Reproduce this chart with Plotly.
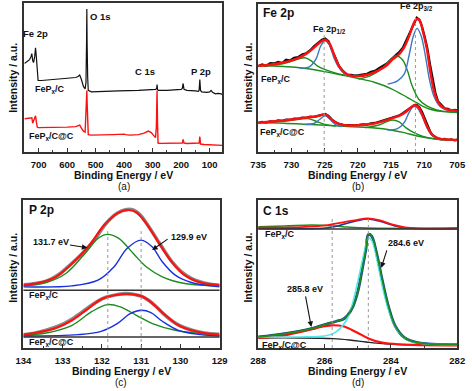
import plotly.graph_objects as go

W, H = 472, 391

# ---------------- (a) survey ----------------
a_black_ev = [750, 740, 732, 727, 724, 721, 718, 714, 711, 708, 705, 702, 690, 650, 600, 570, 562, 556, 550, 543,
              537, 534, 532, 531, 530, 528, 526, 515, 480, 420, 350, 300, 290, 286, 284.5, 283, 280, 250, 210, 200,
              196, 193, 190, 180, 150, 140, 137, 134.5, 132, 128, 110, 100, 95, 90, 80, 70, 60, 55]
a_black_int = [89, 91, 93, 96, 99, 92, 90, 96, 105, 95, 78, 72, 72, 73, 74, 75, 76, 77.5, 73, 66,
               63.5, 70, 110, 144, 110, 75, 62, 60.5, 61, 61.5, 62, 62.5, 63, 64, 68, 63, 62, 62, 62.5, 63,
               64, 69, 63, 62, 61.5, 61, 62, 73, 62, 60.5, 60, 60.5, 62, 60, 58.5, 59, 58.5, 58]
a_red_ev = [750, 740, 732, 727, 724, 721, 718, 714, 711, 708, 705, 702, 690, 650, 600, 570, 562, 556, 550, 543,
            537, 534, 532, 531, 530, 528, 526, 515, 480, 440, 400, 395, 380, 350, 330, 315, 305, 296, 290, 287,
            285, 284.5, 283, 281, 275, 250, 210, 196, 193, 190, 180, 150, 140, 137, 134.5, 132, 120, 100, 80, 55]
a_red_int = [33.5, 34, 34.5, 35, 34.5, 29, 31, 33, 36.5, 30, 25, 24.5, 24.5, 24.5, 25, 25.5, 26, 27, 24, 21,
             20, 35, 55, 62, 50, 20, 17.5, 17, 17, 17.5, 18, 17.5, 17, 17.5, 19, 21, 19.5, 16, 14.5, 25,
             55, 62, 30, 9, 8.7, 8.7, 8.7, 9, 12.7, 9, 8.5, 8.5, 8.5, 9, 15.4, 8, 7.5, 7.2, 7, 6.7]

# ---------------- (b) Fe 2p ----------------
b_grid = [735, 734.4, 733.8, 733.2, 732.6, 732, 731.4, 730.8, 730.2, 729.6, 729, 728.4, 727.8, 727.2, 726.6, 726,
          725.4, 724.9, 724.4, 723.9, 723.4, 722.8, 722.2, 721.6, 721, 720.4, 719.8, 719.2, 718.6, 718, 717.4,
          716.8, 716.2, 715.6, 715, 714.4, 713.8, 713.2, 712.6, 712, 711.5, 711.1, 710.7, 710.3, 709.9, 709.5,
          709.1, 708.7, 708.3, 707.9, 707.4, 706.9, 706.4, 705.9, 705.4, 705]
b_up_data = [257, 262, 258, 266, 265, 270, 266, 276, 274, 282, 284, 292, 295, 304, 316, 325,
             336, 340, 332, 306, 282, 257, 242, 232, 231, 229, 230, 233, 234, 240, 243,
             251, 258, 265, 277, 287, 298, 312, 337, 365, 388, 402, 396, 375, 345, 310,
             262, 215, 178, 152, 140, 131, 129, 124, 126, 125]
b_lo_data = [87, 90, 88, 92, 91, 95, 93, 97, 96, 100, 99, 103, 102, 106, 105, 109,
             112, 114, 108, 97, 90, 84, 81, 80, 79, 80, 81, 83, 82, 86, 87,
             91, 93, 98, 101, 106, 109, 116, 124, 134, 140, 141, 134, 120, 100, 80,
             62, 50, 44, 40, 38, 39, 36, 38, 35, 37]

b_up_fit_ev = [735, 733.2, 731.2, 729.7, 728.75, 727.8, 726.54, 725.56, 724.9, 724.2, 723.6, 722.85, 721.9, 720.9,
               719.9, 718.4, 717.0, 715.7, 714.7, 713.75, 713.0, 712.27, 711.6, 711.15, 710.65, 710.2, 709.57,
               709.08, 708.5, 707.85, 706.9, 705.9, 705]
b_up_fit = [258, 261, 268, 276, 283, 293, 313, 330, 336, 323, 293, 258, 236, 228,
            227, 232, 243, 258, 278, 293, 313, 346, 383, 398, 393, 363, 308,
            243, 183, 148, 130, 125, 123]
b_up_bg_ev = [735, 731.2, 727.8, 724.8, 722.4, 719.9, 717.4, 715.0, 712.5, 711.0, 709.1, 707.1, 705]
b_up_bg = [258, 256, 250, 240, 230, 220, 208, 190, 163, 146, 128, 121, 118]
b_up_sat_ev = [735, 732.2, 730.2, 729.0, 728.0, 727.0, 726.1, 724.8, 723.3, 721.9]
b_up_sat = [258, 261, 270, 278, 282, 273, 258, 246, 236, 230]
b_up_p12_ev = [728.75, 727.3, 726.3, 725.56, 724.9, 724.2, 723.6, 722.85, 722.1, 721.1]
b_up_p12 = [251, 255, 278, 318, 333, 318, 283, 253, 236, 226]
b_up_714_ev = [719.9, 717.9, 716.5, 715.2, 714.24, 713.26, 712.5, 711.8, 710.8, 709.6, 708.1, 706.1, 705]
b_up_714 = [218, 230, 248, 273, 288, 276, 243, 198, 158, 138, 126, 120, 120]
b_up_711_ev = [715.5, 714.0, 713.0, 712.27, 711.6, 711.05, 710.45, 709.8, 709.2, 708.5, 707.6, 706.1, 705]
b_up_711 = [203, 213, 233, 288, 348, 370, 348, 288, 218, 166, 136, 123, 121]

b_lo_fit_ev = [735, 732.2, 729.7, 727.8, 726.3, 725.3, 724.8, 724.1, 723.1, 721.9, 719.9, 717.9, 716.5, 715.0,
               713.75, 712.76, 712.0, 711.44, 710.9, 710.3, 709.57, 708.83, 707.85, 706.1, 705]
b_lo_fit = [88, 92, 98, 103, 106, 111, 112, 100, 86, 80, 80, 84, 90, 100,
            108, 120, 133, 140, 136, 113, 78, 53, 41, 37, 36]
b_lo_bg_ev = [735, 731.2, 727.8, 724.8, 721.4, 717.4, 715.0, 713.0, 711.05, 709.1, 707.1, 705]
b_lo_bg = [88, 86, 83, 80, 76, 72, 66, 58, 48, 41, 37, 36]
b_lo_sat_ev = [735, 731.2, 728.75, 727.5, 726.3, 724.8, 723.3]
b_lo_sat = [88, 92, 98, 100, 92, 82, 78]
b_lo_p12_ev = [728.0, 726.54, 725.7, 724.9, 724.2, 723.34, 722.36]
b_lo_p12 = [82, 86, 98, 108, 98, 82, 76]
b_lo_715_ev = [718.9, 716.95, 715.7, 714.73, 713.75, 712.76, 711.54, 710.06, 708.1, 705]
b_lo_715 = [73, 80, 90, 96, 90, 73, 58, 46, 38, 36]
b_lo_711_ev = [715.5, 714.0, 713.0, 712.27, 711.6, 711.05, 710.3, 709.57, 708.83, 707.85, 706.1, 705]
b_lo_711 = [66, 70, 88, 118, 136, 133, 108, 73, 50, 40, 37, 36]

# ---------------- (c) P 2p ----------------
c_data_ev = [134, 133.7, 133.4, 133.1, 132.8, 132.5, 132.2, 131.9, 131.6, 131.4, 131.2, 131.0, 130.8, 130.6,
             130.4, 130.2, 130.0, 129.7, 129.4, 129.0]
c_up_data = [189, 193, 201, 220, 250, 283, 322, 372, 404, 414, 413, 395, 362, 326, 290, 256, 231, 207, 195, 188]
c_lo_data = [40, 45, 54, 66, 84, 108, 133, 152, 160, 163, 161, 155, 142, 122, 99, 80, 66, 53, 45, 41]
c_up_fit_ev = [134, 133.58, 133.17, 132.76, 132.35, 131.94, 131.61, 131.32, 131.12, 130.87, 130.54, 130.22,
               129.89, 129.48, 129]
c_up_fit = [188, 196, 213, 253, 303, 368, 403, 413, 406, 373, 313, 258, 218, 196, 188]
c_up_g_ev = [134, 133.42, 132.92, 132.43, 132.1, 131.86, 131.57, 131.2, 130.87, 130.46, 129.89, 129]
c_up_g = [186, 196, 223, 283, 328, 340, 328, 283, 243, 213, 193, 186]
c_up_b_ev = [134, 132.76, 132.1, 131.69, 131.36, 131.0, 130.72, 130.46, 130.13, 129.72, 129]
c_up_b = [183, 186, 203, 243, 298, 323, 303, 258, 218, 196, 183]
c_lo_fit_ev = [134, 133.58, 133.17, 132.76, 132.35, 132.02, 131.69, 131.28, 130.95, 130.71, 130.38, 130.05,
               129.72, 129.31, 129]
c_lo_fit = [40, 48, 60, 83, 118, 146, 158, 161, 153, 133, 98, 68, 53, 43, 40]
c_lo_g_ev = [134, 133.42, 132.76, 132.27, 131.86, 131.53, 131.12, 130.71, 130.13, 129.48, 129]
c_lo_g = [38, 45, 68, 108, 130, 123, 98, 73, 53, 43, 38]
c_lo_b_ev = [134, 132.6, 132.02, 131.61, 131.28, 131.0, 130.75, 130.46, 130.05, 129.48, 129]
c_lo_b = [36, 40, 50, 73, 103, 113, 106, 80, 53, 40, 36]

# ---------------- (d) C 1s ----------------
d_up_r_ev = [288, 286.7, 285.9, 285.44, 285.05, 284.7, 284.36, 283.97, 283.58, 283.19, 282]
d_up_r = [360, 362, 368, 376, 383, 388, 383, 370, 361, 358, 358]
d_up_b_ev = [288, 285.9, 285.44, 285.05, 284.7, 284.36, 283.97, 283.58, 282]
d_up_b = [358, 360, 370, 380, 386, 380, 368, 360, 358]
d_up_g_ev = [288, 287.2, 286.4, 285.8, 285.3, 284.7, 282]
d_up_g = [363, 365, 368, 366, 362, 359, 358]
d_bg_ev = [288, 286.7, 285.74, 285.25, 284.75, 284.26, 283.77, 282]
d_bg = [30, 30, 28, 24, 18, 13, 11, 10]
d_r_ev = [288, 287.2, 286.5, 286.0, 285.77, 285.44, 285.05, 284.66, 284.26, 283.77, 282]
d_r = [30, 38, 53, 65, 68, 65, 48, 28, 16, 11, 8]
d_c_ev = [288, 286.7, 286.0, 285.74, 285.54, 285.34, 285.2, 285.0, 284.8, 284.68, 284.56, 284.41, 284.22,
          284.02, 283.77, 283.48, 282.99, 282]
d_c = [33, 33, 36, 43, 58, 83, 118, 198, 288, 330, 318, 258, 168, 98, 48, 23, 13, 10]
d_g_ev = [288, 287.2, 286.4, 285.9, 285.64, 285.44, 285.3, 285.15, 285.0, 284.85, 284.75, 284.68, 284.58,
          284.44, 284.26, 284.07, 283.87, 283.58, 283.19, 282]
d_g = [33, 43, 58, 73, 80, 86, 98, 123, 168, 243, 298, 340, 335, 288, 203, 123, 66, 30, 16, 10]

fig = go.Figure()


def add(x, y, n, color, width, shape='spline'):
    line = dict(color=color, width=width, shape=shape)
    if shape == 'spline':
        line['smoothing'] = 1.0
    fig.add_trace(go.Scatter(x=x, y=y, xaxis='x' + n, yaxis='y' + n, mode='lines', line=line,
                             showlegend=False, hoverinfo='skip'))


RED = '#ff1010'
GREEN = '#1c8c1c'
BLUE_B = '#3a78c0'
BLUE = '#1830e0'
CYAN = '#50e8e8'
NAVY = '#203c9c'

# (a)
add(a_black_ev, a_black_int, '', '#111111', 1.2, 'linear')
add(a_red_ev, a_red_int, '', RED, 1.4, 'linear')

# (b)
add(b_grid, b_up_data, '2', '#111111', 2.2, 'linear')
add(b_grid, b_lo_data, '2', '#111111', 2.2, 'linear')
for xs, ys, c in [(b_up_bg_ev, b_up_bg, GREEN), (b_up_sat_ev, b_up_sat, GREEN), (b_up_714_ev, b_up_714, GREEN),
                  (b_up_p12_ev, b_up_p12, BLUE_B), (b_up_711_ev, b_up_711, BLUE_B),
                  (b_lo_bg_ev, b_lo_bg, GREEN), (b_lo_sat_ev, b_lo_sat, GREEN), (b_lo_715_ev, b_lo_715, GREEN),
                  (b_lo_p12_ev, b_lo_p12, BLUE_B), (b_lo_711_ev, b_lo_711, BLUE_B)]:
    add(xs, ys, '2', c, 1.4)
add(b_up_fit_ev, b_up_fit, '2', RED, 2.4)
add(b_lo_fit_ev, b_lo_fit, '2', RED, 2.4)

# (c)
add(c_data_ev, c_up_data, '3', '#8a8a8a', 3.5)
add(c_data_ev, c_lo_data, '3', '#8a8a8a', 3.5)
add(c_up_g_ev, c_up_g, '3', GREEN, 1.4)
add(c_up_b_ev, c_up_b, '3', BLUE, 1.4)
add(c_lo_g_ev, c_lo_g, '3', GREEN, 1.4)
add(c_lo_b_ev, c_lo_b, '3', BLUE, 1.4)
add(c_up_fit_ev, c_up_fit, '3', RED, 2.2)
add(c_lo_fit_ev, c_lo_fit, '3', RED, 2.2)

# (d)
add(d_up_g_ev, d_up_g, '4', GREEN, 1.6)
add(d_up_b_ev, d_up_b, '4', NAVY, 1.6)
add(d_up_r_ev, d_up_r, '4', RED, 1.8)
add(d_bg_ev, d_bg, '4', '#222222', 1.4)
add(d_g_ev, d_g, '4', NAVY, 2.8)
add(d_r_ev, d_r, '4', RED, 2.2)
add(d_c_ev, d_c, '4', CYAN, 1.6)
add(d_g_ev, d_g, '4', GREEN, 1.6)

# ---------------- layout ----------------
def dom(p0, p1, total):
    return [p0 / total, p1 / total]


def ydom(top, bottom):
    return [1 - bottom / H, 1 - top / H]


FONT = 'Liberation Sans'
tickfont = dict(family=FONT, size=9.5, color='#111111', weight='bold')
common_x = dict(showline=True, mirror=True, linecolor='#333333', linewidth=1.5, ticks='inside', ticklen=4,
                tickwidth=1, tickcolor='#333333', showgrid=False, zeroline=False, tickfont=tickfont,
                fixedrange=True, ticklabelstandoff=3)
common_y = dict(showline=True, mirror=True, linecolor='#333333', linewidth=1.5, ticks='', showticklabels=False,
                showgrid=False, zeroline=False, fixedrange=True)

fig.update_layout(
    width=W, height=H, margin=dict(l=0, r=0, t=0, b=0),
    paper_bgcolor='white', plot_bgcolor='white',
    xaxis=dict(common_x, domain=dom(17, 222, W), range=[750, 55], anchor='y', tick0=0, dtick=100,
               minor=dict(ticks='inside', ticklen=2, dtick=50, tick0=0, tickcolor='#333333')),
    yaxis=dict(common_y, domain=ydom(3, 152), range=[0, 150], anchor='x'),
    xaxis2=dict(common_x, domain=dom(259, 465, W), range=[735, 705], anchor='y2', tick0=705, dtick=5,
                minor=dict(ticks='inside', ticklen=2, dtick=2.5, tick0=705, tickcolor='#333333')),
    yaxis2=dict(common_y, domain=ydom(4, 152), range=[0, 443], anchor='x2'),
    xaxis3=dict(common_x, domain=dom(16, 219, W), range=[134, 129], anchor='y3', tick0=129, dtick=1,
                minor=dict(ticks='inside', ticklen=2, dtick=0.5, tick0=129, tickcolor='#333333')),
    yaxis3=dict(common_y, domain=ydom(200, 348), range=[0, 443], anchor='x3'),
    xaxis4=dict(common_x, domain=dom(259, 465, W), range=[288, 282], anchor='y4', tick0=282, dtick=2,
                minor=dict(ticks='inside', ticklen=2, dtick=1, tick0=282, tickcolor='#333333')),
    yaxis4=dict(common_y, domain=ydom(200, 348), range=[0, 443], anchor='x4'),
)

shapes = []
for xv, ytop in [(725.06, 363), (711.3, 413)]:
    shapes.append(dict(type='line', xref='x2', yref='y2', x0=xv, x1=xv, y0=0, y1=ytop,
                       line=dict(color='#999999', width=1, dash='dot')))
for xv, ytop in [(131.85, 350), (131.0, 350)]:
    shapes.append(dict(type='line', xref='x3', yref='y3', x0=xv, x1=xv, y0=0, y1=ytop,
                       line=dict(color='#999999', width=1, dash='dot')))
for xv, ytop in [(285.77, 388), (284.68, 388)]:
    shapes.append(dict(type='line', xref='x4', yref='y4', x0=xv, x1=xv, y0=0, y1=ytop,
                       line=dict(color='#999999', width=1, dash='dot')))
for yv in [173, 33]:
    shapes.append(dict(type='line', xref='x3 domain', yref='y3', x0=0, x1=1, y0=yv, y1=yv,
                       line=dict(color='#333333', width=1.5)))
shapes.append(dict(type='line', xref='x4 domain', yref='y4', x0=0, x1=1, y0=356, y1=356,
                   line=dict(color='#333333', width=1.5)))
fig.update_layout(shapes=shapes)

ann = []


def txt(x, y, s, size=9, bold=True, angle=0, xanchor='center'):
    ann.append(dict(x=x / W, y=1 - y / H, xref='paper', yref='paper', text=s, showarrow=False,
                    xanchor=xanchor, yanchor='middle', textangle=angle,
                    font=dict(family=FONT, size=size, color='#111111',
                              weight='bold' if bold else 'normal')))


FPC = 'FeP<sub>x</sub>/C'
FPCC = 'FeP<sub>x</sub>/C@C'
SM = 9

# (a)
txt(28, 33, 'Fe 2p', 9.5)
txt(83, 16, 'O 1s', 9.5, xanchor='left')
txt(141.7, 71.5, 'C 1s', 9.5)
txt(200, 71.5, 'P 2p', 9.5)
txt(43, 90, FPC, SM)
txt(45, 137, FPCC, SM)
# (b)
txt(262, 13, 'Fe 2p', 12, xanchor='left')
txt(333, 29, 'Fe 2p<sub>1/2</sub>', SM)
txt(423, 7, 'Fe 2p<sub>3/2</sub>', SM)
txt(277, 80, FPC, SM)
txt(284, 132, FPCC, SM)
# (c)
txt(20, 210, 'P 2p', 12, xanchor='left')
txt(20, 295, FPC, SM, xanchor='left')
txt(20, 342, FPCC, SM, xanchor='left')
txt(45, 242, '131.7 eV', SM)
txt(187, 237, '129.9 eV', SM)
# (d)
txt(262, 211, 'C 1s', 12, xanchor='left')
txt(264, 234, FPC, SM, xanchor='left')
txt(261, 345, FPCC, SM, xanchor='left')
txt(412, 243, '284.6 eV', SM)
txt(307, 289, '285.8 eV', SM)

# axis titles and panel letters
for cx, cy in [(119.5, 175), (362, 175), (117.5, 371), (362, 371)]:
    txt(cx, cy, 'Binding Energy / eV', 10.5)
for cx, cy in [(5, 78), (248, 78), (5, 268), (248, 268)]:
    txt(cx, cy, 'Intensity / a.u.', 10.5, angle=-90)
for cx, cy, s in [(120, 186, '(a)'), (362, 186, '(b)'), (117, 382, '(c)'), (362, 382, '(d)')]:
    txt(cx, cy, s, 10, bold=False)

# arrows
for xr, yr, x, y, axp, ayp in [('x3', 'y3', 132.37, 300, -19, -3), ('x3', 'y3', 130.72, 293, 17, -12),
                                ('x4', 'y4', 284.29, 240, 6, -19), ('x4', 'y4', 286.4, 63, -6, -32)]:
    ann.append(dict(x=x, y=y, xref=xr, yref=yr, ax=axp, ay=ayp, text='', showarrow=True,
                    arrowhead=2, arrowsize=1, arrowwidth=1.1, arrowcolor='#111111'))

fig.update_layout(annotations=ann)
fig.write_html('out.html', config={'displayModeBar': False},
               post_script="document.body.style.margin='0px';document.body.style.overflow='hidden';")
